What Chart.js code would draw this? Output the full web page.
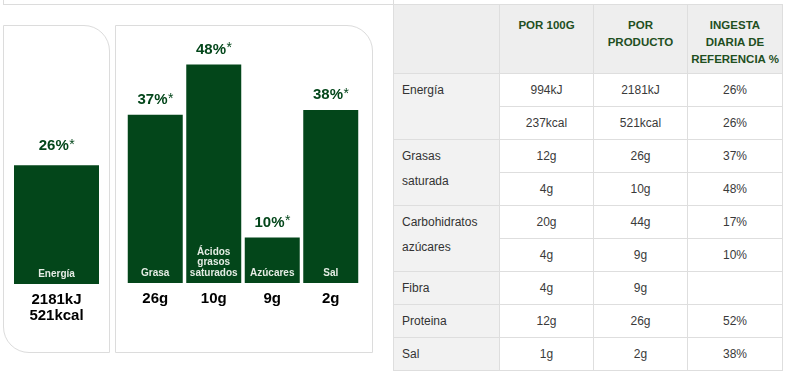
<!DOCTYPE html>
<html>
<head>
<meta charset="utf-8">
<script src="https://cdn.jsdelivr.net/npm/chart.js@4/dist/chart.umd.min.js"></script>
<style>
	html, body { margin: 0; padding: 0; background: #fff; }
	body { width: 787px; height: 374px; position: relative; overflow: hidden; font-family: Arial, 'Liberation Sans', sans-serif; }
	.frame { position: absolute; box-sizing: border-box; border: 1px solid #dcdcdc; }
	.wrap { position: absolute; }
	table.nut { position: absolute; left: 393px; top: 4px; border-collapse: collapse; table-layout: fixed; font-size: 12px; color: #3a3a3a; }
	table.nut td, table.nut th { border: 1px solid #dedede; padding: 0; text-align: center; }
	table.nut th { background: #eeeeee; color: #1f4f1f; font-weight: bold; font-size: 11.5px; vertical-align: top; line-height: 17px; padding-top: 12px; height: 56px; }
	table.nut tr.body { height: 33px; }
	table.nut td { height: 31px; }
	table.nut td.name { background: #f2f2f2; text-align: left; vertical-align: top; padding: 4px 0 0 8px; line-height: 25px; color: #333; height: auto; }
</style>
</head>
<body>
<div class="frame" style="left:3px; top:-20px; width:391px; height:25px;"></div>
<div class="frame" style="left:3px; top:25px; width:107px; height:328px; border-radius:0 26px 0 26px;"></div>
<div class="frame" style="left:115px; top:25px; width:258px; height:328px; border-radius:0 26px 0 0;"></div>
<div class="wrap" style="left:3px; top:25px; width:106px; height:327px;"><canvas id="energyChart"></canvas></div>
<div class="wrap" style="left:115px; top:25px; width:257px; height:327px;"><canvas id="nutrientChart"></canvas></div>
<table class="nut" id="nutTable"></table>

<script>
// Left panel: energy bar
const energyLabels = [['Energía']];
const energyPct = [26];
const energyAmounts = [['2181kJ', '521kcal']];

// Middle panel: nutrient bars
const nutrientLabels = [['Grasa'], ['Ácidos', 'grasos', 'saturados'], ['Azúcares'], ['Sal']];
const nutrientPct = [37, 48, 10, 38];
const nutrientAmounts = [['26g'], ['10g'], ['9g'], ['2g']];

// Table
const tableHead = [[''], ['POR 100G'], ['POR', 'PRODUCTO'], ['INGESTA', 'DIARIA DE', 'REFERENCIA %']];
const rowNames = [['Energía'], ['Grasas', 'saturada'], ['Carbohidratos', 'azúcares'], ['Fibra'], ['Proteina'], ['Sal']];
const rowValues = [
	[['994kJ', '2181kJ', '26%'], ['237kcal', '521kcal', '26%']],
	[['12g', '26g', '37%'], ['4g', '10g', '48%']],
	[['20g', '44g', '17%'], ['4g', '9g', '10%']],
	[['4g', '9g', '']],
	[['12g', '26g', '52%']],
	[['1g', '2g', '38%']],
];
const colWidths = [106, 94, 94, 95];

const BAR = '#03461a';
const FONT = "Arial, 'Liberation Sans', sans-serif";

// draws the % above, the name inside and the amount under each bar
const barText = {
	id: 'barText',
	afterDatasetsDraw(chart, args, opts) {
		const ctx = chart.ctx;
		const meta = chart.getDatasetMeta(0);
		const pct = chart.data.datasets[0].data;
		ctx.save();
		ctx.textBaseline = 'middle';
		meta.data.forEach((bar, i) => {
			// percentage + asterisk
			const main = pct[i] + '%';
			ctx.font = 'bold 15px ' + FONT;
			const w1 = ctx.measureText(main).width;
			ctx.font = '14px ' + FONT;
			const w2 = ctx.measureText('*').width;
			const x0 = bar.x - (w1 + w2) / 2;
			const ty = bar.y - opts.gap;
			ctx.fillStyle = BAR;
			ctx.textAlign = 'left';
			ctx.font = 'bold 15px ' + FONT;
			ctx.fillText(main, x0, ty);
			ctx.font = '14px ' + FONT;
			ctx.fillText('*', x0 + w1 + 0.5, ty - 1);

			// name inside bar, bottom aligned
			const lines = opts.names[i];
			ctx.font = 'bold 10px ' + FONT;
			ctx.fillStyle = '#e4ece4';
			ctx.textAlign = 'center';
			lines.forEach((s, k) => {
				ctx.fillText(s, bar.x, bar.base - 10 - (lines.length - 1 - k) * 10.5);
			});

			// amount under bar
			ctx.font = 'bold 15px ' + FONT;
			ctx.fillStyle = '#000';
			opts.amounts[i].forEach((s, k) => {
				ctx.fillText(s, bar.x, bar.base + 16 + k * 16);
			});
		});
		ctx.restore();
	},
};

function makeBarCfg(names, pct, amounts, pad, barPct, gap) {
	return {
		type: 'bar',
		data: {
			labels: names.map(n => n.join(' ')),
			datasets: [{ data: pct, backgroundColor: BAR, borderWidth: 0, categoryPercentage: 1, barPercentage: barPct }],
		},
		options: {
			responsive: true,
			maintainAspectRatio: false,
			animation: false,
			layout: { padding: pad },
			scales: {
				x: { display: false },
				y: { display: false, min: 0, max: 50 },
			},
			plugins: {
				legend: { display: false },
				tooltip: { enabled: false },
				barText: { names: names, amounts: amounts, gap: gap },
			},
		},
		plugins: [barText],
	};
}

new Chart(document.getElementById('energyChart'),
	makeBarCfg(energyLabels, energyPct, energyAmounts, { left: 11, right: 10, top: 31.5, bottom: 68 }, 1, 20));
new Chart(document.getElementById('nutrientChart'),
	makeBarCfg(nutrientLabels, nutrientPct, nutrientAmounts, { left: 11, right: 12, top: 30.5, bottom: 69 }, 0.94, 15));

// nutrition table
const tbl = document.getElementById('nutTable');
let html = '<colgroup>' + colWidths.map(w => '<col style="width:' + w + 'px">').join('') + '</colgroup>';
html += '<tr>' + tableHead.map(h => '<th>' + h.join('<br>') + '</th>').join('') + '</tr>';
rowNames.forEach((name, g) => {
	rowValues[g].forEach((vals, r) => {
		html += '<tr class="body">';
		if (r === 0) html += '<td class="name" rowspan="' + rowValues[g].length + '">' + name.join('<br>') + '</td>';
		html += vals.map(v => '<td>' + v + '</td>').join('');
		html += '</tr>';
	});
});
tbl.innerHTML = html;
</script>
</body>
</html>
